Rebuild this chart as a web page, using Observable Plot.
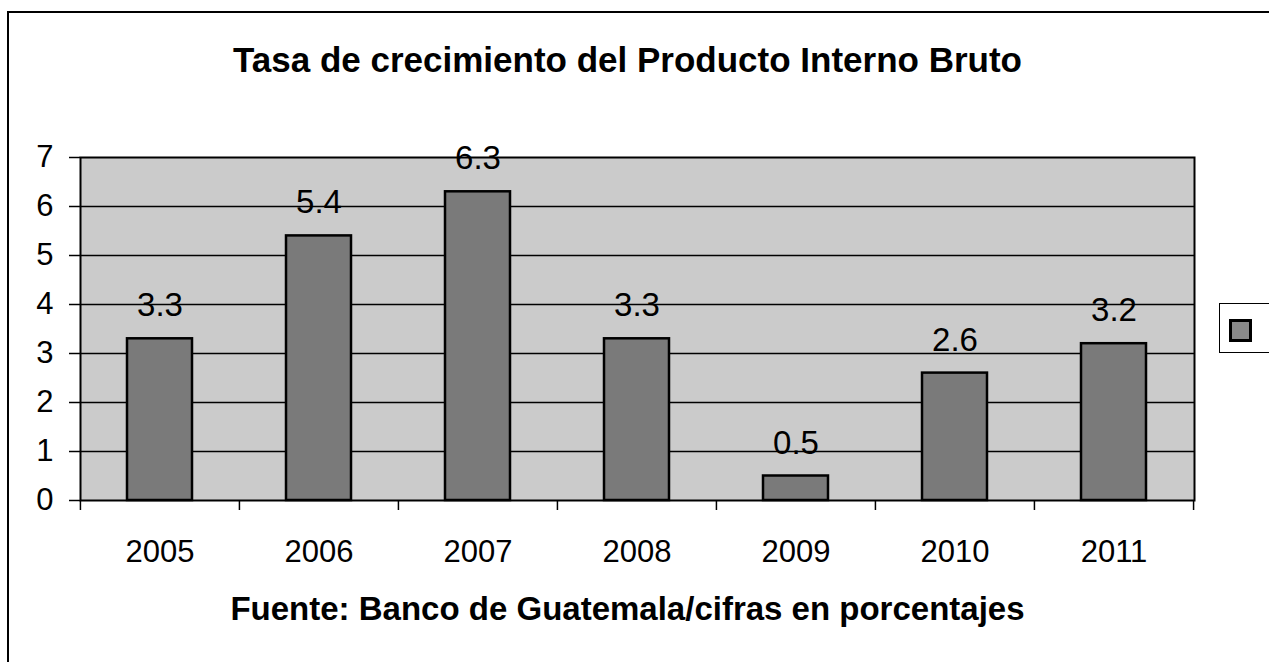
<!DOCTYPE html>
<html>
<head>
<meta charset="utf-8">
<script src="https://cdn.jsdelivr.net/npm/d3@7"></script>
<script src="https://cdn.jsdelivr.net/npm/@observablehq/plot@0.6"></script>
<style>
  html, body { margin: 0; padding: 0; background: #fff; }
  #wrap { position: relative; width: 1269px; height: 662px; overflow: hidden; background: #fff;
          font-family: "Liberation Sans", Arial, sans-serif; color: #000; }
  #border { position: absolute; left: 7px; top: 11px; right: -10px; bottom: -10px;
            border-left: 2.5px solid #000; border-top: 2.5px solid #000; }
  #title { position: absolute; left: 0; width: 1255px; top: 41px; text-align: center;
           font-weight: bold; font-size: 35px; line-height: 38px; }
  #caption { position: absolute; left: 0; width: 1255px; top: 590px; text-align: center;
             font-weight: bold; font-size: 33px; line-height: 38px; }
  #chart { position: absolute; left: 0; top: 100px; }
  #legend { position: absolute; left: 1219px; top: 303px; width: 60px; height: 48px;
            border: 1.5px solid #000; background: #fff; }
  #legend .sw { position: absolute; left: 9px; top: 15px; width: 17px; height: 17px;
                border: 3px solid #000; background: #8a8a8a; }
</style>
</head>
<body>
<div id="wrap">
  <div id="border"></div>
  <div id="title">Tasa de crecimiento del Producto Interno Bruto</div>
  <div id="chart"></div>
  <div id="caption">Fuente: Banco de Guatemala/cifras en porcentajes</div>
  <div id="legend"><div class="sw"></div></div>
</div>
<script>
const years = ["2005", "2006", "2007", "2008", "2009", "2010", "2011"];
const values = [3.3, 5.4, 6.3, 3.3, 0.5, 2.6, 3.2];
const yTicks = [0, 1, 2, 3, 4, 5, 6, 7];
const gridLines = [1, 2, 3, 4, 5, 6];

const data = years.map((year, i) => ({year, value: values[i]}));

const W = 1269, H = 480;
const mL = 80, mR = 75, mT = 57, mB = 80;
const step = (W - mL - mR) / years.length;

const plot = Plot.plot({
  width: W,
  height: H,
  marginLeft: mL,
  marginRight: mR,
  marginTop: mT,
  marginBottom: mB,
  style: {fontFamily: "'Liberation Sans', Arial, sans-serif", fontSize: "30px", color: "#000", background: "transparent"},
  x: {domain: years, type: "band", paddingInner: 0.59, paddingOuter: 0.295},
  y: {domain: [0, 7]},
  marks: [
    Plot.frame({fill: "#cbcbcb", stroke: null}),
    Plot.ruleY(gridLines, {stroke: "#000", strokeWidth: 1.5}),
    Plot.barY(data, {x: "year", y: "value", fill: "#7a7a7a", stroke: "#000", strokeWidth: 2.5}),
    Plot.text(data, {x: "year", y: "value", text: d => d3.format(".1f")(d.value), dy: -33, fontSize: 33, fill: "#000"}),
    Plot.frame({stroke: "#000", strokeWidth: 2}),
    Plot.axisY({ticks: yTicks, tickFormat: d3.format("d"), tickSize: 11, tickPadding: 16, fontSize: 31, label: null, stroke: "#000", strokeWidth: 1.5}),
    Plot.axisX({tickSize: 0, tickPadding: 39, fontSize: 31, label: null}),
    Plot.axisX({tickSize: 10, tickFormat: () => "", dx: -step / 2, label: null, strokeWidth: 1.5}),
    Plot.axisX({ticks: [years[years.length - 1]], tickSize: 10, tickFormat: () => "", dx: step / 2, label: null, strokeWidth: 1.5})
  ]
});
document.getElementById("chart").appendChild(plot);
</script>
</body>
</html>
